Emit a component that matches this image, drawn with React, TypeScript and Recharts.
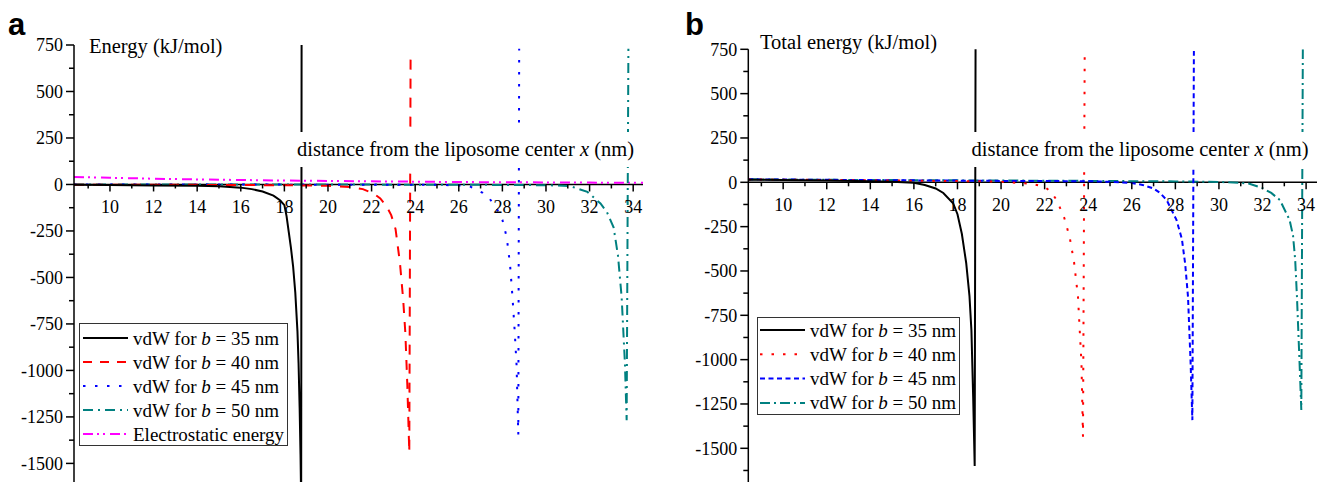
import React from 'react';
import { LineChart, Line, XAxis, YAxis, ReferenceLine, ReferenceDot } from 'recharts';

// panel a: vdW energies and electrostatic energy
const aVdw35X = [8.35, 10, 12, 14, 15, 16, 16.5, 17, 17.5, 17.8, 18, 18.1, 18.2, 18.3, 18.4, 18.5, 18.6, 18.65, 18.7, 18.74, 18.77, 18.79];
const aVdw35Y = [-2, -3, -5, -7, -10, -17, -25, -38, -60, -85, -111, -170, -255, -340, -440, -580, -790, -960, -1200, -1450, -1700, 800];
const aVdw40X = [8.35, 14, 18, 20, 21, 21.6, 22.1, 22.4, 22.7, 22.9, 23.1, 23.3, 23.45, 23.55, 23.64, 23.73, 23.79];
const aVdw40Y = [-1, -2, -4, -7, -13, -25, -49, -75, -120, -165, -240, -420, -620, -800, -1080, -1440, 710];
const aVdw45X = [8.35, 20, 25, 26, 26.5, 27.1, 27.4, 27.7, 28.0, 28.2, 28.35, 28.46, 28.56, 28.65, 28.73, 28.77];
const aVdw45Y = [0, -1, -2, -5, -10, -45, -75, -120, -190, -285, -430, -600, -780, -970, -1345, 730];
const aVdw50X = [8.35, 25, 29, 30, 31.1, 31.9, 32.5, 32.8, 33.1, 33.3, 33.47, 33.62, 33.7, 33.78];
const aVdw50Y = [0, -1, -3, -4, -8, -40, -102, -150, -230, -380, -605, -960, -1268, 730];
const aElecX = [8.35, 10, 12, 14, 16, 18, 20, 22, 24, 26, 28, 30, 32, 34.45];
const aElecY = [40, 36, 31, 27, 24, 21, 19, 17, 15, 13, 12, 11, 10, 9];

// panel b: total energies
const bVdw35X = [8.4, 10, 12, 14, 15, 16, 16.5, 17, 17.35, 17.8, 18, 18.2, 18.4, 18.55, 18.64, 18.72, 18.79, 18.83];
const bVdw35Y = [15, 13, 10, 6, 3, -2, -15, -35, -60, -118, -180, -290, -455, -640, -835, -1210, -1600, 770];
const bVdw40X = [8.4, 12, 16, 19, 20, 21, 21.5, 22, 22.3, 22.55, 22.9, 23.15, 23.35, 23.53, 23.69, 23.76, 23.84];
const bVdw40Y = [16, 13, 9, 6, 3, -5, -12, -25, -55, -100, -200, -310, -450, -645, -1020, -1435, 760];
const bVdw45X = [8.4, 12, 16, 20, 24, 25, 26, 26.5, 27, 27.3, 27.6, 28.05, 28.3, 28.45, 28.58, 28.7, 28.78, 28.85];
const bVdw45Y = [17, 14, 11, 8, 6, 3, -4, -15, -35, -60, -100, -212, -320, -460, -645, -1020, -1341, 740];
const bVdw50X = [8.4, 12, 16, 20, 24, 28, 30, 31, 31.4, 32, 32.4, 32.8, 33.24, 33.4, 33.5, 33.58, 33.7, 33.78, 33.85];
const bVdw50Y = [17, 14, 12, 10, 8, 5, 2, -3, -8, -33, -60, -100, -212, -300, -440, -645, -1020, -1284, 750];

const yTicks = [750, 500, 250, 0, -250, -500, -750, -1000, -1250, -1500];
const yMinorA = [625, 375, 125, -125, -375, -625, -875, -1125, -1375];
const yMinorB = [625, 375, 125, -125, -375, -625, -875, -1125, -1375, -1625];
const xMajor = [10, 12, 14, 16, 18, 20, 22, 24, 26, 28, 30, 32, 34];
const xMinor = [9, 11, 13, 15, 17, 19, 21, 23, 25, 27, 29, 31, 33];

const SERIF = '"Liberation Serif", "Times New Roman", serif';
const serifStyle = { fontFamily: SERIF };

const zip = (xs: number[], ys: number[]) => xs.map((x, i) => ({ x, y: ys[i] }));

const xTick = (label: string, len: number) => (p: any) => (
  <g>
    <line x1={p.cx} y1={p.cy} x2={p.cx} y2={p.cy + len} stroke="#000" strokeWidth={1.5} />
    {label ? (
      <text x={p.cx} y={p.cy + 28.5} textAnchor="middle" fontSize={18} style={serifStyle} fill="#000">
        {label}
      </text>
    ) : null}
  </g>
);

const yMinorTick = (p: any) => (
  <line x1={p.cx - 5} y1={p.cy} x2={p.cx} y2={p.cy} stroke="#000" strokeWidth={1.5} />
);

interface SeriesDef {
  key: string;
  data: { x: number; y: number }[];
  color: string;
  dash?: string;
}

interface PanelProps {
  left: number;
  width: number;
  top: number;
  yAxisWidth: number;
  right: number;
  xDomain: [number, number];
  yDomain: [number, number];
  yMinor: number[];
  series: SeriesDef[];
}

function Panel({ left, width, top, yAxisWidth, right, xDomain, yDomain, yMinor, series }: PanelProps) {
  return (
    <div style={{ position: 'absolute', left, top: 0, fontFamily: SERIF }}>
      <LineChart width={width} height={482} margin={{ top, right, bottom: 0, left: 0 }} style={serifStyle}>
        <XAxis type="number" dataKey="x" domain={xDomain} allowDataOverflow hide />
        <YAxis
          type="number"
          domain={yDomain}
          allowDataOverflow
          ticks={yTicks}
          interval={0}
          width={yAxisWidth}
          tickSize={8}
          tickMargin={3}
          axisLine={{ stroke: '#000', strokeWidth: 1.5 }}
          tickLine={{ stroke: '#000', strokeWidth: 1.5 }}
          tick={{ fill: '#000', fontSize: 18, fontFamily: SERIF, style: serifStyle }}
        />
        <ReferenceLine y={0} stroke="#000" strokeWidth={1.5} />
        {series.map((s) => (
          <Line
            key={s.key}
            data={s.data}
            dataKey="y"
            type="linear"
            stroke={s.color}
            strokeWidth={2}
            strokeDasharray={s.dash}
            dot={false}
            activeDot={false}
            isAnimationActive={false}
          />
        ))}
        {xMajor.map((v) => (
          <ReferenceDot key={'M' + v} x={v} y={0} ifOverflow="visible" shape={xTick(String(v), 7)} />
        ))}
        {xMinor.map((v) => (
          <ReferenceDot key={'m' + v} x={v} y={0} ifOverflow="visible" shape={xTick('', 4)} />
        ))}
        {yMinor.map((v) => (
          <ReferenceDot key={'y' + v} x={xDomain[0]} y={v} ifOverflow="visible" shape={yMinorTick} />
        ))}
      </LineChart>
    </div>
  );
}

const seriesA: SeriesDef[] = [
  { key: 'e', data: zip(aElecX, aElecY), color: '#ff00ff', dash: '10 4 2 4 2 5' },
  { key: 'a50', data: zip(aVdw50X, aVdw50Y), color: '#008080', dash: '10 5 2 5' },
  { key: 'a45', data: zip(aVdw45X, aVdw45Y), color: '#0000ff', dash: '2.5 9.5' },
  { key: 'a40', data: zip(aVdw40X, aVdw40Y), color: '#ff0000', dash: '10 9' },
  { key: 'a35', data: zip(aVdw35X, aVdw35Y), color: '#000000' },
];

const seriesB: SeriesDef[] = [
  { key: 'b50', data: zip(bVdw50X, bVdw50Y), color: '#008080', dash: '10 4 2 4' },
  { key: 'b45', data: zip(bVdw45X, bVdw45Y), color: '#0000ff', dash: '5 3.5' },
  { key: 'b40', data: zip(bVdw40X, bVdw40Y), color: '#ff0000', dash: '2.5 9' },
  { key: 'b35', data: zip(bVdw35X, bVdw35Y), color: '#000000' },
];

const legendA = [
  { label: 'vdW for ', b: '35', color: '#000000', dash: undefined },
  { label: 'vdW for ', b: '40', color: '#ff0000', dash: '9 8' },
  { label: 'vdW for ', b: '45', color: '#0000ff', dash: '2.5 9.5' },
  { label: 'vdW for ', b: '50', color: '#008080', dash: '10 5 2 5' },
  { label: 'Electrostatic energy', b: '', color: '#ff00ff', dash: '10 4 2 4 2 5' },
];

const legendB = [
  { label: 'vdW for ', b: '35', color: '#000000', dash: undefined },
  { label: 'vdW for ', b: '40', color: '#ff0000', dash: '2.5 9' },
  { label: 'vdW for ', b: '45', color: '#0000ff', dash: '5 3.5' },
  { label: 'vdW for ', b: '50', color: '#008080', dash: '10 4 2 4' },
];

function LegendBox({ x, y, w, h, rows, step, lineX, textX, first }: any) {
  return (
    <g>
      <rect x={x} y={y} width={w} height={h} fill="#fff" stroke="#333" strokeWidth={1} />
      {rows.map((r: any, i: number) => {
        const cy = first + i * step;
        return (
          <g key={i}>
            <line x1={lineX} y1={cy} x2={lineX + 45} y2={cy} stroke={r.color} strokeWidth={2} strokeDasharray={r.dash} />
            <text x={textX} y={cy + 6.5} fontSize={19} style={serifStyle} fill="#000">
              {r.b ? (
                <>
                  {r.label}
                  <tspan fontStyle="italic">b</tspan>
                  {' = ' + r.b + ' nm'}
                </>
              ) : (
                r.label
              )}
            </text>
          </g>
        );
      })}
    </g>
  );
}

export default function App() {
  return (
    <div style={{ position: 'absolute', left: 0, top: 0, width: 1317, height: 482, background: '#fff', overflow: 'hidden', fontFamily: SERIF }}>
      <Panel
        left={0}
        width={660}
        top={45}
        yAxisWidth={74}
        right={17}
        xDomain={[8.35, 34.45]}
        yDomain={[-1600, 750]}
        yMinor={yMinorA}
        series={seriesA}
      />
      <Panel
        left={660}
        width={657}
        top={49.3}
        yAxisWidth={88.3}
        right={0}
        xDomain={[8.4, 34.5]}
        yDomain={[-1690, 750]}
        yMinor={yMinorB}
        series={seriesB}
      />
      <svg width={1317} height={482} style={{ position: 'absolute', left: 0, top: 0, pointerEvents: 'none', fontFamily: SERIF }}>
        <text x={8} y={35} fontSize={31} fontWeight="bold" style={{ fontFamily: '"Liberation Sans", Arial, sans-serif' }}>a</text>
        <text x={685} y={35} fontSize={31} fontWeight="bold" style={{ fontFamily: '"Liberation Sans", Arial, sans-serif' }}>b</text>
        <text x={89} y={52.5} fontSize={20.5} style={serifStyle}>Energy (kJ/mol)</text>
        <text x={760} y={48.6} fontSize={20.5} style={serifStyle}>Total energy (kJ/mol)</text>

        <rect x={295} y={132} width={348} height={35} fill="#fff" />
        <text x={297} y={156} fontSize={20.5} style={serifStyle}>
          distance from the liposome center <tspan fontStyle="italic">x</tspan> (nm)
        </text>
        <rect x={969} y={132} width={348} height={35} fill="#fff" />
        <text x={971.5} y={156} fontSize={20.5} style={serifStyle}>
          distance from the liposome center <tspan fontStyle="italic">x</tspan> (nm)
        </text>

        <LegendBox x={79.5} y={323.5} w={208} h={122} rows={legendA} step={24} first={338} lineX={83} textX={133} />
        <LegendBox x={757.5} y={317.5} w={202} h={97} rows={legendB} step={24.3} first={330} lineX={760} textX={810} />
      </svg>
    </div>
  );
}
